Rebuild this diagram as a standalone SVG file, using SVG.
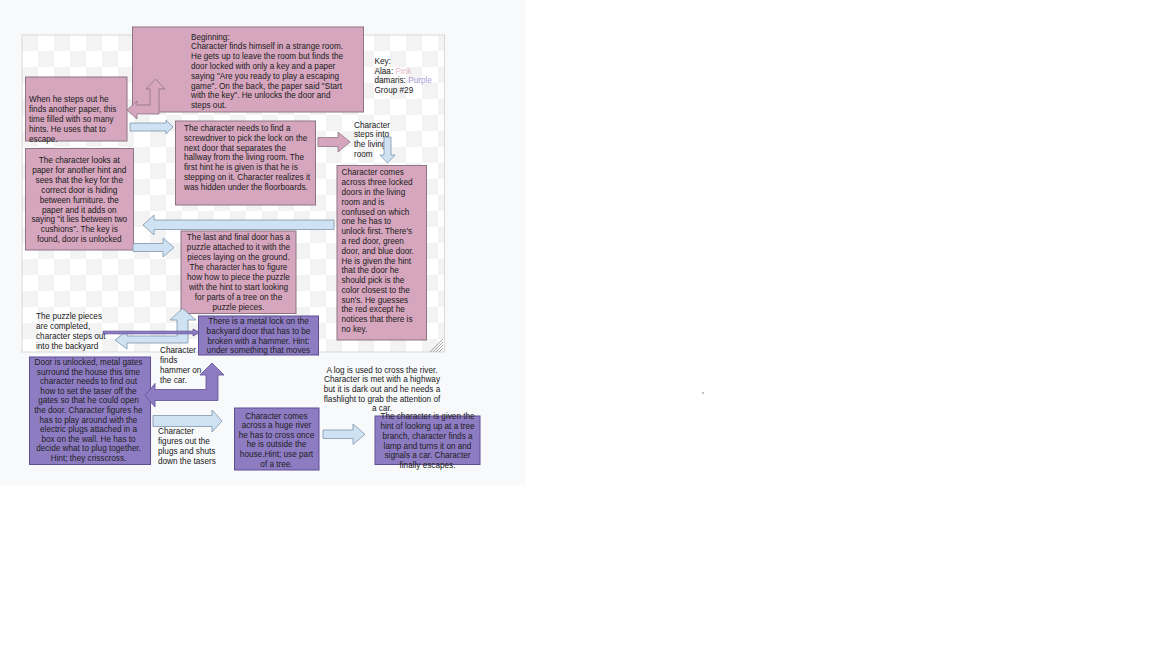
<svg xmlns="http://www.w3.org/2000/svg" width="1152" height="648" viewBox="0 0 1152 648">
<defs>
<pattern id="checker" x="22" y="35" width="32" height="32" patternUnits="userSpaceOnUse">
<rect width="32" height="32" fill="#ffffff"/>
<rect x="0" y="0" width="16" height="16" fill="#f3f3f3"/>
<rect x="16" y="16" width="16" height="16" fill="#f3f3f3"/>
</pattern>
</defs>
<style>
text{font-family:"Liberation Sans",Arial,sans-serif;font-size:8.2px;fill:#202020}
.c{text-anchor:middle}
.pink{fill:#d5a6bd;stroke:#8d7583;stroke-width:1}
.purp{fill:#8e7cc3;stroke:#5e4f94;stroke-width:1}
.blue{fill:#cfe2f3;stroke:#7e96ab;stroke-width:0.8}
.parr{fill:#d5a6bd;stroke:#8d7583;stroke-width:0.8}
.varr{fill:#8e7cc3;stroke:#5e4f94;stroke-width:0.8}
</style>
<rect x="0" y="0" width="1152" height="648" fill="#ffffff"/>
<rect x="0" y="0" width="525" height="485" fill="#f8f9fb"/>
<rect x="22" y="35" width="422.5" height="317" fill="url(#checker)" stroke="#d9d9d9" stroke-width="1"/>
<g id="resize-handle" stroke="#8a8a8a" stroke-width="0.8">
<line x1="443" y1="339" x2="430" y2="352"/>
<line x1="443" y1="342" x2="433" y2="352"/>
<line x1="443" y1="345" x2="436" y2="352"/>
<line x1="443" y1="348" x2="439" y2="352"/>
</g>
<circle cx="703" cy="393" r="0.7" fill="#555"/>

<g id="node-beginning">
<rect class="pink" x="132.5" y="27" width="231" height="85"/>
<text x="191" y="39.5">Beginning:<tspan x="191" dy="9.8">Character finds himself in a strange room.</tspan><tspan x="191" dy="9.8">He gets up to leave the room but finds the</tspan><tspan x="191" dy="9.8">door locked with only a key and a paper</tspan><tspan x="191" dy="9.8">saying "Are you ready to play a escaping</tspan><tspan x="191" dy="9.8">game". On the back, the paper said "Start</tspan><tspan x="191" dy="9.8">with the key". He unlocks the door and</tspan><tspan x="191" dy="9.8">steps out.</tspan></text>
</g>

<g id="node-key">
<text x="374.5" y="63.7">Key:<tspan x="374.5" dy="9.8">Alaa: </tspan><tspan fill="#e8b9cc">Pink</tspan><tspan x="374.5" dy="9.8">damaris: </tspan><tspan fill="#b0a2dc">Purple</tspan><tspan x="374.5" dy="9.8">Group #29</tspan></text>
</g>

<g id="node-another-paper">
<rect class="pink" x="25.5" y="77" width="101.5" height="64"/>
<text x="29" y="102.4">When he steps out he<tspan x="29" dy="9.8">finds another paper, this</tspan><tspan x="29" dy="9.8">time filled with so many</tspan><tspan x="29" dy="9.8">hints. He uses that to</tspan><tspan x="29" dy="9.8">escape.</tspan></text>
</g>

<g id="node-screwdriver">
<rect class="pink" x="175.5" y="121" width="140" height="84"/>
<text x="184" y="131">The character needs to find a<tspan x="184" dy="9.75">screwdriver to pick the lock on the</tspan><tspan x="184" dy="9.75">next door that separates the</tspan><tspan x="184" dy="9.75">hallway from the living room. The</tspan><tspan x="184" dy="9.75">first hint he is given is that he is</tspan><tspan x="184" dy="9.75">stepping on it. Character realizes it</tspan><tspan x="184" dy="9.75">was hidden under the floorboards.</tspan></text>
</g>

<g id="node-steps-living-room">
<text x="354" y="127.7">Character<tspan x="354" dy="9.7">steps into</tspan><tspan x="354" dy="9.7">the living</tspan><tspan x="354" dy="9.7">room</tspan></text>
</g>

<g id="node-three-doors">
<rect class="pink" x="337" y="165.5" width="89.5" height="174.5"/>
<text x="341.5" y="175.4">Character comes<tspan x="341.5" dy="9.79">across three locked</tspan><tspan x="341.5" dy="9.79">doors in the living</tspan><tspan x="341.5" dy="9.79">room and is</tspan><tspan x="341.5" dy="9.79">confused on which</tspan><tspan x="341.5" dy="9.79">one he has to</tspan><tspan x="341.5" dy="9.79">unlock first. There's</tspan><tspan x="341.5" dy="9.79">a red door, green</tspan><tspan x="341.5" dy="9.79">door, and blue door.</tspan><tspan x="341.5" dy="9.79">He is given the hint</tspan><tspan x="341.5" dy="9.79">that the door he</tspan><tspan x="341.5" dy="9.79">should pick is the</tspan><tspan x="341.5" dy="9.79">color closest to the</tspan><tspan x="341.5" dy="9.79">sun's. He guesses</tspan><tspan x="341.5" dy="9.79">the red except he</tspan><tspan x="341.5" dy="9.79">notices that there is</tspan><tspan x="341.5" dy="9.79">no key.</tspan></text>
</g>

<g id="node-key-furniture">
<rect class="pink" x="25.5" y="148.5" width="108" height="101.5"/>
<text class="c" x="79.3" y="163.4">The character looks at<tspan x="79.3" dy="9.83">paper for another hint and</tspan><tspan x="79.3" dy="9.83">sees that the key for the</tspan><tspan x="79.3" dy="9.83">correct door is hiding</tspan><tspan x="79.3" dy="9.83">between furniture. the</tspan><tspan x="79.3" dy="9.83">paper and it adds on</tspan><tspan x="79.3" dy="9.83">saying "it lies between two</tspan><tspan x="79.3" dy="9.83">cushions". The key is</tspan><tspan x="79.3" dy="9.83">found, door is unlocked</tspan></text>
</g>

<g id="node-final-door">
<rect class="pink" x="181" y="231" width="115" height="82.5"/>
<text class="c" x="238.5" y="240.4">The last and final door has a<tspan x="238.5" dy="9.94">puzzle attached to it with the</tspan><tspan x="238.5" dy="9.94">pieces laying on the ground.</tspan><tspan x="238.5" dy="9.94">The character has to figure</tspan><tspan x="238.5" dy="9.94">how how to piece the puzzle</tspan><tspan x="238.5" dy="9.94">with the hint to start looking</tspan><tspan x="238.5" dy="9.94">for parts of a tree on the</tspan><tspan x="238.5" dy="9.94">puzzle pieces.</tspan></text>
</g>

<g id="node-puzzle-completed">
<text x="36" y="319.4">The puzzle pieces<tspan x="36" dy="9.7">are completed,</tspan><tspan x="36" dy="9.7">character steps out</tspan><tspan x="36" dy="9.7">into the backyard</tspan></text>
</g>

<g id="node-metal-lock">
<rect class="purp" x="198.5" y="316" width="120" height="39"/>
<text class="c" x="258.5" y="323.7">There is a metal lock on the<tspan x="258.5" dy="9.9">backyard door that has to be</tspan><tspan x="258.5" dy="9.9">broken with a hammer. Hint:</tspan><tspan x="258.5" dy="9.9">under something that moves</tspan></text>
</g>

<g id="node-hammer">
<text x="160" y="353.4">Character<tspan x="160" dy="10">finds</tspan><tspan x="160" dy="10">hammer on</tspan><tspan x="160" dy="10">the car.</tspan></text>
</g>

<g id="node-gates">
<rect class="purp" x="29.5" y="357" width="121" height="107.5"/>
<text class="c" x="88.5" y="365">Door is unlocked, metal gates<tspan x="88.5" dy="9.6">surround the house this time</tspan><tspan x="88.5" dy="9.6">character needs to find out</tspan><tspan x="88.5" dy="9.6">how to set the taser off the</tspan><tspan x="88.5" dy="9.6">gates so that he could open</tspan><tspan x="88.5" dy="9.6">the door. Character figures he</tspan><tspan x="88.5" dy="9.6">has to play around with the</tspan><tspan x="88.5" dy="9.6">electric plugs attached in a</tspan><tspan x="88.5" dy="9.6">box on the wall. He has to</tspan><tspan x="88.5" dy="9.6">decide what to plug together.</tspan><tspan x="88.5" dy="9.6">Hint; they crisscross.</tspan></text>
</g>

<g id="node-tasers">
<text x="158" y="434.4">Character<tspan x="158" dy="10">figures out the</tspan><tspan x="158" dy="10">plugs and shuts</tspan><tspan x="158" dy="10">down the tasers</tspan></text>
</g>

<g id="node-river">
<rect class="purp" x="234.5" y="408" width="84.5" height="62"/>
<text class="c" x="276.5" y="418.5">Character comes<tspan x="276.5" dy="9.6">across a huge river</tspan><tspan x="276.5" dy="9.6">he has to cross once</tspan><tspan x="276.5" dy="9.6">he is outside the</tspan><tspan x="276.5" dy="9.6">house.Hint; use part</tspan><tspan x="276.5" dy="9.6">of a tree.</tspan></text>
</g>

<g id="node-log">
<text class="c" x="382" y="372.7">A log is used to cross the river.<tspan x="382" dy="9.6">Character is met with a highway</tspan><tspan x="382" dy="9.6">but it is dark out and he needs a</tspan><tspan x="382" dy="9.6">flashlight to grab the attention of</tspan><tspan x="382" dy="9.6">a car.</tspan></text>
</g>

<g id="node-escape">
<rect class="purp" x="375" y="416" width="105" height="48.5"/>
<text class="c" x="427.5" y="419.4">The character is given the<tspan x="427.5" dy="9.7">hint of looking up at a tree</tspan><tspan x="427.5" dy="9.7">branch, character finds a</tspan><tspan x="427.5" dy="9.7">lamp and turns it on and</tspan><tspan x="427.5" dy="9.7">signals a car. Character</tspan><tspan x="427.5" dy="9.7">finally escapes.</tspan></text>
</g>

<g id="connectors">
<path class="parr" d="M127,110 L137,101 V105 H150 V89 H146 L155.5,79 L165,89 H159 V114 H137 V119 Z"/>
<path class="blue" d="M130,123 H166 V120 L173,127 L166,134 V131 H130 Z"/>
<path class="parr" d="M318,137.5 H338 V132 L350,142 L338,152 V146.5 H318 Z"/>
<path class="blue" d="M384,137 H391 V155 H395 L387.5,163 L380,155 H384 Z"/>
<path class="blue" d="M334,220 V229.5 H154 V235 L143,225 L154,215 V220 Z"/>
<path class="blue" d="M133,243.5 H163 V238 L174,247.5 L163,257 V251.5 H133 Z"/>
<path class="blue" d="M115,340 L127,331 V336 H177 V320 H170 L182.5,308.5 L196,320 H188 V343 H127 V349 Z"/>
<path class="varr" d="M103,331.2 H193 V329 L199.5,332.5 L193,336 V333.8 H103 Z"/>
<path class="varr" d="M145,395.5 L155,383.5 V389.5 H206 V375 H200 L212,363 L224,375 H218 V400.5 H155 V407 Z"/>
<path class="blue" d="M153,415.5 H212 V410 L222,421 L212,432 V426.5 H153 Z"/>
<path class="blue" d="M323,430 H353 V424 L365,434.3 L353,444.5 V438.5 H323 Z"/>
</g>
</svg>
